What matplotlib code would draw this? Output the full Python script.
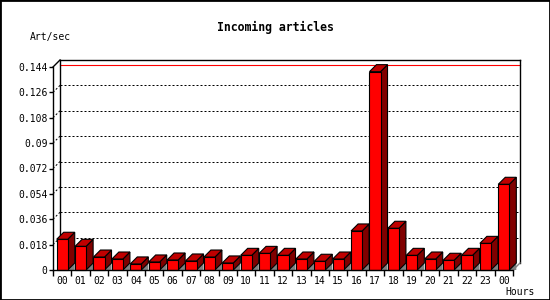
import numpy as np
import matplotlib.pyplot as plt
from matplotlib.patches import Polygon, Rectangle

hours = ['00', '01', '02', '03', '04', '05', '06', '07', '08', '09', '10', '11',
         '12', '13', '14', '15', '16', '17', '18', '19', '20', '21', '22', '23', '00']
rate = [0.0218, 0.0168, 0.0092, 0.0078, 0.0043, 0.0057, 0.0071, 0.0064, 0.0092,
        0.0050, 0.0104, 0.0118, 0.0104, 0.0078, 0.0062, 0.0078, 0.0277, 0.1407,
        0.0296, 0.0104, 0.0078, 0.0069, 0.0104, 0.0189, 0.0608]
yticks = [0, 0.018, 0.036, 0.054, 0.072, 0.09, 0.108, 0.126, 0.144]
ytick_labels = ['0', '0.018', '0.036', '0.054', '0.072', '0.09', '0.108', '0.126', '0.144']

mono = 'DejaVu Sans Mono'
fig = plt.figure(figsize=(5.5, 3), dpi=100)
ax = fig.add_axes([53 / 550, 30 / 300, 460 / 550, 203 / 300])
n = len(rate)
ymax = 0.144
ax.set_xlim(-0.5, n - 0.5)
ax.set_ylim(0, ymax)

# 3d depth in data units (7 px each way)
dx = 7 / 18.4
dy = 7 * ymax / 203
w = 0.6
x0, x1 = -0.5, n - 0.5

# back wall gridlines + little diagonals
for v in yticks[1:-1]:
    ax.plot([x0 + dx, x1 + dx], [v + dy, v + dy], color='black', lw=0.72,
            ls=(0, (2, 2)), clip_on=False, zorder=1)
    ax.plot([x0, x0 + dx], [v, v + dy], color='black', lw=0.72,
            ls=(0, (2, 2)), clip_on=False, zorder=1)

# max line
vmax = max(rate)
ax.plot([x0 + dx, x1 + dx], [vmax + dy, vmax + dy], color='red', lw=0.8,
        clip_on=False, zorder=1)

# frame of back wall
kw = dict(color='black', lw=1.0, clip_on=False, zorder=1)
ax.plot([x0 + dx, x0 + dx], [dy, ymax + dy], **kw)
ax.plot([x0 + dx, x1 + dx], [ymax + dy, ymax + dy], **kw)
ax.plot([x1 + dx, x1 + dx], [dy, ymax + dy], **kw)
ax.plot([x0, x0 + dx], [ymax, ymax + dy], **kw)
ax.plot([x1, x1 + dx], [0, dy], color='#808080', lw=1.0, clip_on=False, zorder=1)

# bars
for i, v in enumerate(rate):
    l, r = i - w / 2, i + w / 2
    ax.add_patch(Polygon([(r, 0), (r + dx, dy), (r + dx, 0)], closed=True,
                         fc='#808080', ec='none', zorder=2 + i * 0.01, clip_on=False))
    ax.add_patch(Polygon([(r, 0), (r + dx, dy), (r + dx, v + dy), (r, v)], closed=True,
                         fc='#800000', ec='black', lw=0.8, zorder=2 + i * 0.01, clip_on=False))
    ax.add_patch(Polygon([(l, v), (l + dx, v + dy), (r + dx, v + dy), (r, v)], closed=True,
                         fc='#c00000', ec='black', lw=0.8, zorder=2 + i * 0.01, clip_on=False))
    ax.add_patch(Rectangle((l, 0), w, v, fc='#ff0000', ec='black', lw=0.8,
                           zorder=2.005 + i * 0.01, clip_on=False))

# axes
for s in ['top', 'right']:
    ax.spines[s].set_visible(False)
ax.spines['left'].set_linewidth(1.0)
ax.spines['bottom'].set_linewidth(1.0)
ax.spines['left'].set_zorder(5)
ax.spines['bottom'].set_zorder(5)
ax.set_yticks(yticks)
ax.set_yticklabels(ytick_labels, fontfamily=mono, fontsize=7)
ax.tick_params(axis='y', length=3, width=1, pad=1)
ax.set_xticks(range(n))
ax.set_xticklabels(hours, fontfamily=mono, fontsize=7)
ax.set_xticks(np.arange(n + 1) - 0.5, minor=True)
ax.tick_params(axis='x', which='major', length=0, pad=4)
ax.tick_params(axis='x', which='minor', length=4, width=1)
ax.set_facecolor('none')

fig.text(275 / 550, 1 - 27 / 300, 'Incoming articles', ha='center', va='center',
         fontfamily=mono, fontsize=8.3, fontweight='bold')
fig.text(30 / 550, 1 - 37 / 300, 'Art/sec', ha='left', va='center',
         fontfamily=mono, fontsize=7)
fig.text(505 / 550, 1 - 292 / 300, 'Hours', ha='left', va='center',
         fontfamily=mono, fontsize=7)

fig.patches.append(Rectangle((0, 0), 1, 1, transform=fig.transFigure, fill=False,
                             ec='black', lw=2))
fig.savefig('out.png', dpi=100)
